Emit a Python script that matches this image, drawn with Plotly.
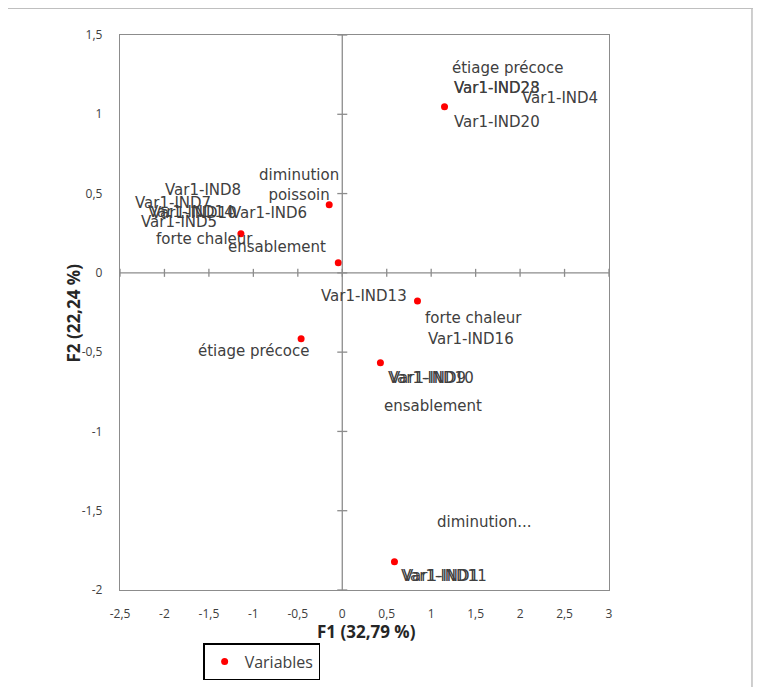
import plotly.graph_objects as go

# Points (F1, F2)
f1 = [1.15, -0.147, -1.14, -0.045, 0.846, -0.463, 0.429, 0.587]
f2 = [1.047, 0.43, 0.246, 0.063, -0.177, -0.416, -0.567, -1.822]

# Labels (text and their anchor positions in data coordinates)
label_text = [
    "étiage précoce", "Var1-IND23", "Var1-IND28", "Var1-IND4", "Var1-IND20",
    "diminution<br>poissoin", "Var1-IND8", "Var1-IND7", "Var1-IND10", "Var1-IND14",
    "Var1-IND6", "Var1-IND5", "forte chaleur", "ensablement",
    "Var1-IND13", "forte chaleur", "Var1-IND16", "étiage précoce",
    "Var1-IND10", "Var1-IND9", "ensablement", "diminution...",
    "Var1-IND11", "Var1-IND1",
]
label_x = [
    1.862, 1.738, 1.745, 2.449, 1.738,
    -0.485, -1.569, -1.907, -1.67, -1.70,
    -0.824, -1.84, -1.546, -0.734,
    0.248, 1.479, 1.445, -0.993,
    0.993, 0.96, 1.016, 1.603,
    1.14, 1.11,
]
label_y = [
    1.293, 1.166, 1.166, 1.103, 0.952,
    0.555, 0.523, 0.441, 0.378, 0.385,
    0.378, 0.322, 0.214, 0.164,
    -0.145, -0.284, -0.416, -0.492,
    -0.662, -0.662, -0.839, -1.57,
    -1.91, -1.91,
]

x_ticks = [-2.5, -2, -1.5, -1, -0.5, 0, 0.5, 1, 1.5, 2, 2.5, 3]
x_tick_text = ["-2,5", "-2", "-1,5", "-1", "-0,5", "0", "0,5", "1", "1,5", "2", "2,5", "3"]
y_ticks = [-2, -1.5, -1, -0.5, 0, 0.5, 1, 1.5]
y_tick_text = ["-2", "-1,5", "-1", "-0,5", "0", "0,5", "1", "1,5"]

fig = go.Figure()
fig.add_trace(go.Scatter(
    x=f1, y=f2, mode="markers", name="Variables",
    marker=dict(color="#ff0000", size=7),
))

for t, x, y in zip(label_text, label_x, label_y):
    fig.add_annotation(x=x, y=y, text=t, showarrow=False, xanchor="center", yanchor="middle",
                       font=dict(family="DejaVu Sans", size=15, color="#404040"))

axis_color = "#8c8c8c"
shapes = [
    dict(type="line", x0=-2.5, x1=3, y0=0, y1=0, xref="x", yref="y",
         line=dict(color=axis_color, width=1.3)),
    dict(type="line", x0=0, x1=0, y0=-2, y1=1.5, xref="x", yref="y",
         line=dict(color=axis_color, width=1.3)),
]
for t in x_ticks:
    shapes.append(dict(type="line", xref="x", yref="y", x0=t, x1=t, ysizemode="pixel",
                       yanchor=0, y0=-4, y1=4, line=dict(color=axis_color, width=1.3)))
for t in y_ticks:
    shapes.append(dict(type="line", xref="x", yref="y", y0=t, y1=t, xsizemode="pixel",
                       xanchor=0, x0=-5, x1=5, line=dict(color=axis_color, width=1.3)))
# frame lines of the chart container
shapes.append(dict(type="line", xref="paper", yref="paper", x0=-0.26, x1=1.32, y0=1.0486, y1=1.0486,
                   line=dict(color="#bfbfbf", width=2)))
shapes.append(dict(type="line", xref="paper", yref="paper", x0=1.2924, x1=1.2924, y0=1.0486, y1=-0.2,
                   line=dict(color="#bfbfbf", width=1.5)))

fig.add_annotation(x=0.505, y=-0.099, xref="paper", yref="paper", text="<b>F1 (32,79 %)</b>",
                   showarrow=False, font=dict(family="Open Sans", size=17, color="#262626"))
fig.add_annotation(x=-0.1227, y=0.499, xref="paper", yref="paper", text="<b>F2 (22,24 %)</b>",
                   textangle=-90, showarrow=False, font=dict(family="Open Sans", size=17, color="#262626"))

fig.update_layout(
    width=761, height=687,
    margin=dict(l=112, r=160, t=27, b=105, autoexpand=False),
    paper_bgcolor="white", plot_bgcolor="white",
    shapes=shapes,
    showlegend=True,
    legend=dict(x=0.17, y=-0.0955, xanchor="left", yanchor="top",
                bordercolor="#000000", borderwidth=1.5,
                font=dict(family="Open Sans", size=16, color="#404040"),
                itemwidth=30, tracegroupgap=0),
    xaxis=dict(range=[-2.5, 3], tickvals=x_ticks, ticktext=x_tick_text, showgrid=False,
               zeroline=False, showline=True, mirror=True, linecolor=axis_color, linewidth=1.3,
               ticks="", ticklabelstandoff=12,
               tickfont=dict(family="Open Sans", size=12, color="#404040")),
    yaxis=dict(range=[-2, 1.5], tickvals=y_ticks, ticktext=y_tick_text, showgrid=False,
               zeroline=False, showline=True, mirror=True, linecolor=axis_color, linewidth=1.3,
               ticks="", ticklabelstandoff=14,
               tickfont=dict(family="Open Sans", size=12, color="#404040")),
)

fig.write_html("out.html")
